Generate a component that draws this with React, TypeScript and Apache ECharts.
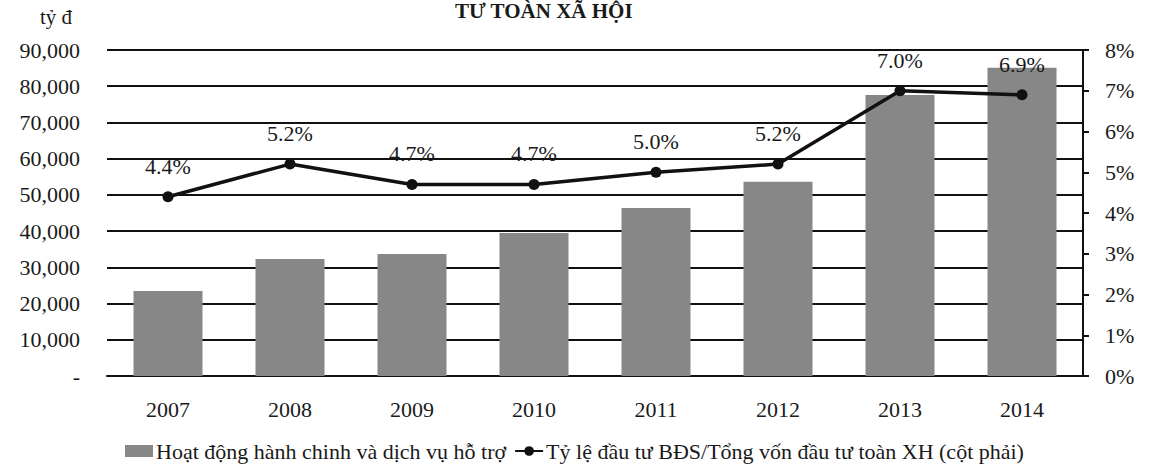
import React, { useEffect, useRef } from "react";
import * as echarts from "echarts";

const years = ["2007", "2008", "2009", "2010", "2011", "2012", "2013", "2014"];
const adminValues = [23500, 32300, 33700, 39500, 46400, 53600, 77600, 85100];
const ratioValues = [4.4, 5.2, 4.7, 4.7, 5.0, 5.2, 7.0, 6.9];
const barName = "Hoạt động hành chinh và dịch vụ hỗ trợ";
const lineName = "Tỷ lệ đầu tư BĐS/Tổng vốn đầu tư toàn XH (cột phải)";
const titleText = "TƯ TOÀN XÃ HỘI";
const unitText = "tỷ đ";

const FONT = "'Liberation Serif', 'Times New Roman', serif";

export default function App() {
  const ref = useRef<HTMLDivElement>(null);
  useEffect(() => {
    document.body.style.margin = "0";
    if (!ref.current) return;
    const chart = echarts.init(ref.current, null, { renderer: "svg" });
    chart.setOption({
      animation: false,
      backgroundColor: "#ffffff",
      textStyle: { fontFamily: FONT, color: "#1a1a1a" },
      graphic: [
        {
          type: "text",
          left: 455,
          top: 0,
          style: {
            text: titleText,
            font: `bold 21px ${FONT}`,
            fill: "#1a1a1a",
          },
        },
        {
          type: "text",
          left: 40,
          top: 6,
          style: {
            text: unitText,
            font: `21px ${FONT}`,
            fill: "#1a1a1a",
          },
        },
      ],
      legend: {
        left: 120,
        top: 435,
        itemGap: 8,
        itemWidth: 28,
        itemHeight: 12,
        textStyle: { fontFamily: FONT, fontSize: 22, color: "#1a1a1a", padding: [0, 0, 0, -2] },
        data: [
          { name: barName, icon: "rect" },
          { name: lineName },
        ],
      },
      grid: { left: 107, right: 69, top: 50, bottom: 94, containLabel: false },
      xAxis: {
        type: "category",
        data: years,
        axisLine: { show: true, lineStyle: { color: "#111", width: 2 } },
        axisTick: { show: false },
        axisLabel: { fontFamily: FONT, fontSize: 22, color: "#1a1a1a", margin: 22 },
      },
      yAxis: [
        {
          type: "value",
          min: 0,
          max: 90000,
          interval: 10000,
          axisLine: { show: false },
          axisTick: { show: false },
          splitLine: { show: true, lineStyle: { color: "#111", width: 2 } },
          axisLabel: {
            fontFamily: FONT,
            fontSize: 22,
            color: "#1a1a1a",
            margin: 27,
            formatter: (v: number) => (v === 0 ? "-" : v.toLocaleString("en-US")),
          },
        },
        {
          type: "value",
          min: 0,
          max: 8,
          interval: 1,
          position: "right",
          axisLine: { show: true, lineStyle: { color: "#111", width: 2 } },
          axisTick: { show: true, length: 6, lineStyle: { color: "#111", width: 2 } },
          splitLine: { show: false },
          axisLabel: {
            fontFamily: FONT,
            fontSize: 22,
            color: "#1a1a1a",
            margin: 22,
            formatter: (v: number) => `${v}%`,
          },
        },
      ],
      series: [
        {
          name: barName,
          type: "bar",
          data: adminValues,
          barWidth: 69,
          itemStyle: { color: "#878787" },
          yAxisIndex: 0,
        },
        {
          name: lineName,
          type: "line",
          data: ratioValues,
          yAxisIndex: 1,
          symbol: "circle",
          symbolSize: 11,
          lineStyle: { color: "#111", width: 3.5 },
          itemStyle: { color: "#111" },
          label: {
            show: true,
            position: "top",
            distance: 14,
            fontFamily: FONT,
            fontSize: 22,
            color: "#1a1a1a",
            formatter: (p: any) => `${p.value.toFixed(1)}%`,
          },
        },
      ],
    });
    return () => chart.dispose();
  }, []);
  return <div ref={ref} style={{ width: 1152, height: 470 }} />;
}
